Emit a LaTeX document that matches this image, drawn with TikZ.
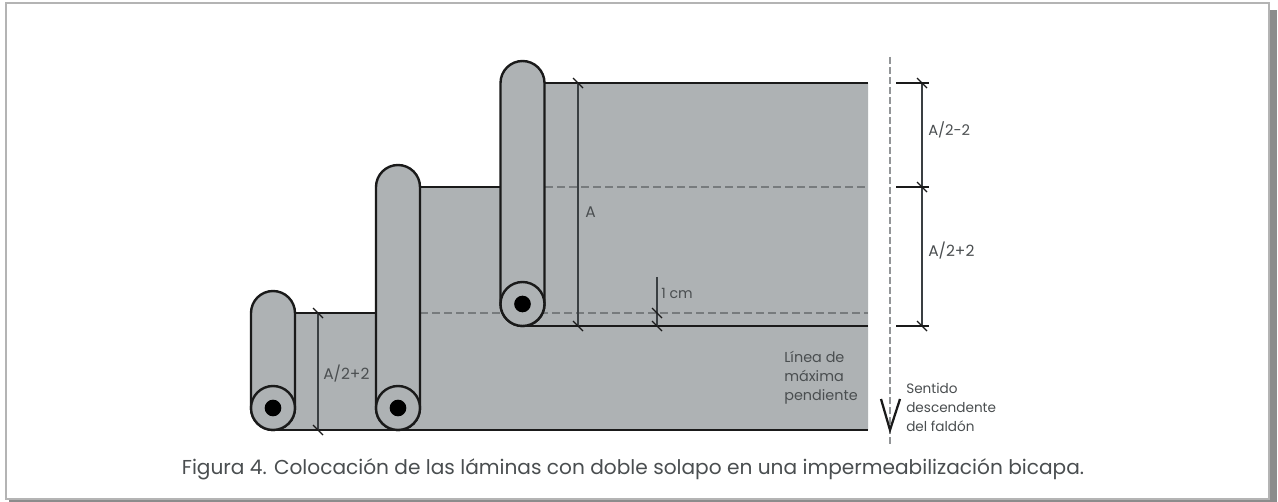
\documentclass[tikz,border=0pt]{standalone}
\usepackage{fontspec}
\setmainfont{Poppins}
\definecolor{sheet}{HTML}{AEB2B4}
\definecolor{ink}{HTML}{1A1A1A}
\definecolor{dim}{HTML}{3A3F42}
\definecolor{txt}{HTML}{4A4E50}
\definecolor{framec}{HTML}{B4B4B4}
\definecolor{dashc}{HTML}{777B7D}
\definecolor{shadowc}{HTML}{8C8C8C}
\tikzset{
  heavy/.style={draw=ink,line width=1.8pt},
  rollbody/.style={draw=ink,line width=1.8pt,fill=sheet},
  overlap/.style={draw=dashc,line width=1.3pt,dash pattern=on 6pt off 3pt},
  dimline/.style={draw=dim,line width=0.9pt},
  tick/.style={draw=ink,line width=0.9pt},
  lbl/.style={text=txt,font=\fontsize{11.6pt}{14pt}\selectfont,inner sep=0pt,align=left},
}
\newcommand{\rollr}[4]{% name, x, top y, core y
  \path[rollbody] (#2-22,#4) -- (#2-22,#3+22) arc[start angle=180,end angle=360,radius=22] -- (#2+22,#4) arc[start angle=0,end angle=180,radius=22] -- cycle;
  \node[circle,draw=ink,line width=1.8pt,fill=sheet,minimum size=33pt,inner sep=0pt] (#1) at (#2,#4) {};
  \node[circle,fill=black,minimum size=12.5pt,inner sep=0pt] (#1c) at (#2,#4) {};
}
\newcommand{\dimtick}[1]{\draw[tick] ($(#1)+(-5,-5)$) -- ($(#1)+(5,5)$);}
\usetikzlibrary{calc}
\begin{document}
\begin{tikzpicture}[x=0.75pt,y=-0.75pt]
\useasboundingbox (0,0) rectangle (1278,502);
% frame with shadow
\fill[white] (0,0) rectangle (1278,502);
\fill[shadowc] (1269,10) rectangle (1277,502);
\fill[shadowc] (9,499) rectangle (1277,502);
\draw[framec,line width=0.9pt,fill=white] (6,3) rectangle (1269,499);
% sheet
\fill[sheet] (273,430) -- (868,430) -- (868,83) -- (540,83) -- (540,187) -- (420,187) -- (420,313) -- (273,313) -- cycle;
% named coordinates
\coordinate (t3) at (545,83); \coordinate (t3e) at (868,83);
\coordinate (t2) at (420,187); \coordinate (t2e) at (500,187);
\coordinate (t1) at (295,313); \coordinate (t1e) at (376,313);
\coordinate (b1) at (273,430); \coordinate (b1e) at (868,430);
\coordinate (b3) at (522,326); \coordinate (b3e) at (868,326);
\coordinate (d2) at (545,187); \coordinate (d2e) at (868,187);
\coordinate (d1) at (420,313); \coordinate (d1e) at (868,313);
\draw[overlap] (d2) -- (d2e);
\draw[overlap] (d1) -- (d1e);
\draw[heavy] (t3) -- (t3e);
\draw[heavy] (t2) -- (t2e);
\draw[heavy] (t1) -- (t1e);
\draw[heavy] (b1) -- (b1e);
\draw[heavy] (b3) -- (b3e);
% rollers
\rollr{ra}{273}{291}{408}
\rollr{rb}{398}{165}{408}
\rollr{rc}{522.5}{61}{304}
% inner dims
\coordinate (la) at (578,83); \coordinate (lb) at (578,326);
\coordinate (ca) at (657,313); \coordinate (cb) at (657,326); \coordinate (cc) at (657,277);
\coordinate (pa) at (318,313); \coordinate (pb) at (318,430);
\draw[dimline] (la) -- (lb); \dimtick{la} \dimtick{lb}
\draw[dimline] (cc) -- (cb); \dimtick{ca} \dimtick{cb}
\draw[dimline] (pa) -- (pb); \dimtick{pa} \dimtick{pb}
% axis
\coordinate (axa) at (890,57); \coordinate (axb) at (890,445);
\draw[draw=dashc!80,line width=1.7pt,dash pattern=on 5pt off 2.5pt] (axa) -- (axb);
% right dims
\coordinate (r1) at (922,83); \coordinate (r2) at (922,187); \coordinate (r3) at (922,326);
\coordinate (e1) at (896,83); \coordinate (e2) at (896,187); \coordinate (e3) at (896,326);
\coordinate (f1) at (929,83); \coordinate (f2) at (929,187); \coordinate (f3) at (929,326);
\draw[dimline] (r1) -- (r3);
\draw[tick] (e1) -- (f1); \draw[tick] (e2) -- (f2); \draw[tick] (e3) -- (f3);
\dimtick{r1} \dimtick{r2} \dimtick{r3}
% direction mark
\coordinate (va) at (881,399); \coordinate (vb) at (890,430); \coordinate (vc) at (900,399);
\draw[ink,line width=1.7pt,line join=miter] (va) -- (vb) -- (vc);
% labels
\node[lbl,anchor=west,font=\fontsize{11pt}{14pt}\selectfont] (l1) at (928,130) {A/2-2};
\node[lbl,anchor=west] (l2) at (928,251) {A/2+2};
\node[lbl,anchor=west] (l3) at (585,212) {A};
\node[lbl,anchor=west,font=\fontsize{10.6pt}{14pt}\selectfont] (l4) at (661,293) {1 cm};
\node[lbl,anchor=west] (l5) at (323,374) {A/2+2};
\node[lbl,anchor=north west,font=\fontsize{10.8pt}{14.2pt}\selectfont] (l6) at (784,351) {Línea de\\máxima\\pendiente};
\node[lbl,anchor=north west,font=\fontsize{10.2pt}{14.2pt}\selectfont] (l7) at (906,383) {Sentido\\descendente\\del faldón};
\node[text=txt,inner sep=0pt,font=\fontsize{15.1pt}{18pt}\selectfont] (cap) at (633,469) {Figura 4. Colocación de las láminas con doble solapo en una impermeabilización bicapa.};
\end{tikzpicture}
\end{document}
